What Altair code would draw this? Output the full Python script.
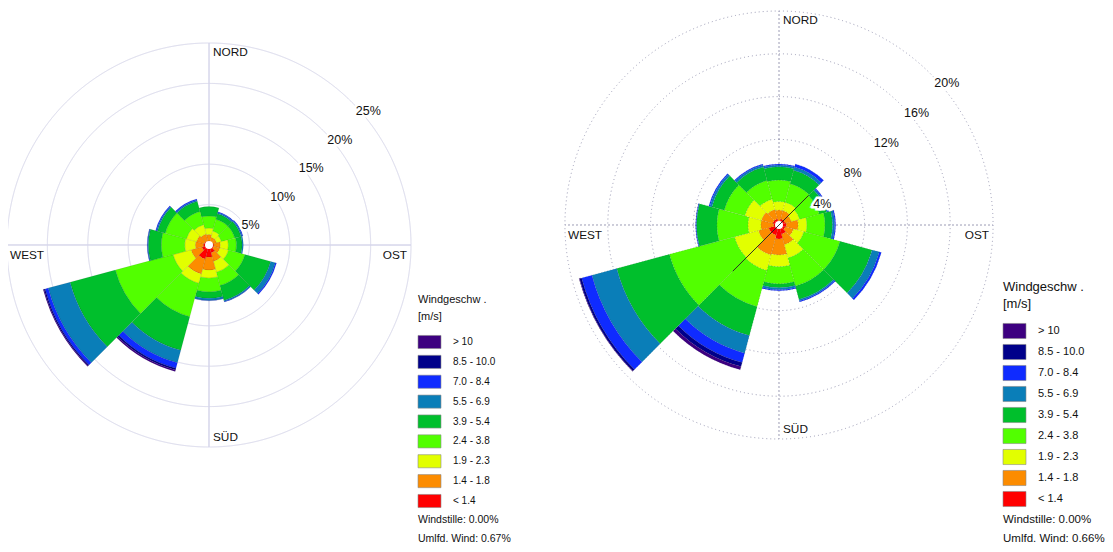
import math
import altair as alt
import pandas as pd

# ---------------- data ----------------
DIRECTIONS = [0, 30, 60, 90, 120, 150, 180, 210, 240, 270, 300, 330]
SPEED_CLASSES = ["< 1.4", "1.4 - 1.8", "1.9 - 2.3", "2.4 - 3.8", "3.9 - 5.4",
                 "5.5 - 6.9", "7.0 - 8.4", "8.5 - 10.0", "> 10"]
CLASS_COLORS = ["#ff0000", "#fc8c00", "#e2ff00", "#52ff00", "#00bf2c",
                "#0a7eb8", "#0f2bff", "#00008a", "#3d0080"]

# left rose: frequency (%) per speed class, by direction
left_c1 = [0.5, 0.4, 0.4, 0.6, 0.6, 1.0, 1.5, 1.8, 0.9, 0.7, 0.6, 0.5]
left_c2 = [0.8, 0.6, 0.6, 0.8, 0.8, 1.1, 1.6, 1.9, 1.4, 1.0, 1.0, 0.9]
left_c3 = [0.8, 0.8, 0.6, 1.0, 1.1, 1.4, 1.0, 1.2, 2.3, 1.3, 1.3, 1.2]
left_c4 = [1.5, 1.5, 1.7, 1.0, 2.1, 1.7, 1.7, 4.3, 7.4, 2.9, 2.7, 1.7]
left_c5 = [1.15, 0.7, 0.8, 0.7, 3.3, 1.9, 0.8, 4.3, 5.8, 1.6, 1.0, 1.3]
left_c6 = [0.0, 0.15, 0.15, 0.15, 0.6, 0.15, 0.25, 1.6, 2.8, 0.1, 0.15, 0.15]
left_c7 = [0.0, 0.1, 0.1, 0.0, 0.15, 0.05, 0.05, 0.7, 0.4, 0.05, 0.1, 0.15]
left_c8 = [0, 0, 0, 0, 0, 0, 0, 0.2, 0.15, 0, 0, 0]
left_c9 = [0, 0, 0, 0, 0, 0, 0, 0.2, 0.1, 0, 0, 0]

# right rose
right_c1 = [0.4, 0.6, 0.6, 0.7, 0.6, 0.9, 1.3, 1.0, 1.0, 0.5, 0.6, 0.6]
right_c2 = [1.0, 0.8, 0.6, 1.1, 0.8, 1.0, 1.5, 1.9, 1.0, 1.2, 1.1, 0.9]
right_c3 = [0.8, 0.8, 0.8, 0.8, 1.0, 1.3, 1.1, 1.5, 2.3, 1.2, 1.6, 1.0]
right_c4 = [2.0, 1.8, 1.9, 1.7, 3.5, 2.7, 1.6, 3.5, 6.3, 2.9, 2.0, 1.8]
right_c5 = [1.25, 1.3, 0.7, 0.7, 3.1, 1.3, 0.35, 2.8, 5.1, 1.9, 1.2, 1.3]
right_c6 = [0.15, 0.3, 0.15, 0.2, 0.7, 0.15, 0.2, 1.7, 2.4, 0.05, 0.2, 0.2]
right_c7 = [0.1, 0.3, 0.1, 0.1, 0.2, 0.1, 0.1, 0.9, 1.0, 0.05, 0.1, 0.1]
right_c8 = [0, 0, 0, 0, 0, 0, 0, 0.4, 0.2, 0, 0, 0]
right_c9 = [0, 0, 0, 0, 0, 0, 0, 0.3, 0.05, 0, 0, 0]

LEFT_RINGS = [5, 10, 15, 20, 25]
RIGHT_RINGS = [4, 8, 12, 16, 20]
LEFT_NOTES = ["Windstille: 0.00%", "Umlfd. Wind: 0.67%"]
RIGHT_NOTES = ["Windstille: 0.00%", "Umlfd. Wind: 0.66%"]
LEGEND_TITLE = ["Windgeschw .", "[m/s]"]
COMPASS = ["NORD", "OST", "SÜD", "WEST"]

FONT = "Liberation Sans"

# ---------------- layout ----------------
W, H = 1097, 536
L_CX, L_CY, L_RPX, L_MAX = 201, 237, 202, 25
R_CX, R_CY, R_RPX, R_MAX = 771, 217, 214, 20

TS = alt.Scale(type="linear", domain=[0, 360], range=[0, 2 * math.pi], nice=False)
COLOR = alt.Scale(domain=SPEED_CLASSES, range=CLASS_COLORS)


def rose_table(series):
    rows = []
    for di, d in enumerate(DIRECTIONS):
        cum = 0.0
        for ci, cls in enumerate(SPEED_CLASSES):
            v = series[ci][di]
            if v > 0:
                rows.append(dict(t0=d - 15, t1=d + 15, r0=cum, r1=cum + v, cls=cls))
            cum += v
    return pd.DataFrame(rows)


def rose(series, cx, cy, rmax, rpx, rings, dotted):
    rs = alt.Scale(type="linear", domain=[0, rmax], range=[0, rpx], nice=False)
    layers = []
    ring_color = "#9a9ab4" if dotted else "#d6d6ea"
    dash = [1, 3] if dotted else [1, 0]
    ring_df = pd.DataFrame({"v": rings, "lab": [f"{r}%" for r in rings]})
    # rings
    layers.append(
        alt.Chart(ring_df).mark_arc(fillOpacity=0, stroke=ring_color, strokeWidth=1,
                                    strokeDash=dash, theta=0, theta2=6.2832)
        .encode(radius=alt.Radius("v:Q", scale=rs, stack=False),
                x=alt.value(cx), y=alt.value(cy))
    )
    # spokes N/E/S/W
    spoke_df = pd.DataFrame({"a": [0, 90, 180, 270]})
    layers.append(
        alt.Chart(spoke_df).transform_calculate(a2="datum.a + 0.01", r0="0", r1=str(rmax))
        .mark_arc(fillOpacity=0, stroke=ring_color, strokeWidth=1, strokeDash=dash)
        .encode(theta=alt.Theta("a:Q", scale=TS, stack=False), theta2="a2:Q",
                radius=alt.Radius("r1:Q", scale=rs, stack=False), radius2="r0:Q",
                x=alt.value(cx), y=alt.value(cy))
    )
    # rose sectors
    if dotted:
        stroke_kw = dict(stroke="#333333", strokeWidth=0.5, strokeDash=[1, 2], strokeOpacity=0.45)
    else:
        stroke_kw = dict(stroke="#000000", strokeWidth=0.4, strokeOpacity=0.2)
    layers.append(
        alt.Chart(rose_table(series)).mark_arc(**stroke_kw)
        .encode(theta=alt.Theta("t0:Q", scale=TS, stack=False), theta2="t1:Q",
                radius=alt.Radius("r1:Q", scale=rs, stack=False), radius2="r0:Q",
                color=alt.Color("cls:N", scale=COLOR, legend=None),
                x=alt.value(cx), y=alt.value(cy))
    )
    # centre hole
    layers.append(
        alt.Chart(pd.DataFrame({"k": [0]})).mark_arc(fill="white", radius=4, theta=0, theta2=6.2832)
        .encode(x=alt.value(cx), y=alt.value(cy))
    )
    # ring labels (white halo, then text)
    for halo in (True, False):
        kw = dict(theta=math.pi / 4, align="left", baseline="top", dx=4, dy=3,
                  font=FONT, fontSize=12.5, color="#111111")
        if halo:
            kw.update(stroke="white", strokeWidth=5, color="white")
        layers.append(
            alt.Chart(ring_df).mark_text(**kw)
            .encode(radius=alt.Radius("v:Q", scale=rs, stack=False), text="lab:N",
                    x=alt.value(cx), y=alt.value(cy))
        )
    # compass labels
    specs = [
        (COMPASS[0], 0.0, "left", "top", 4, 4),
        (COMPASS[1], math.pi / 2, "right", "top", -4, 5),
        (COMPASS[2], math.pi, "left", "bottom", 4, -4),
        (COMPASS[3], 3 * math.pi / 2, "left", "top", 3, 5),
    ]
    for txt, th, al, bl, dx, dy in specs:
        layers.append(
            alt.Chart(pd.DataFrame({"t": [txt]}))
            .mark_text(theta=th, radius=rpx, align=al, baseline=bl, dx=dx, dy=dy,
                       font=FONT, fontSize=11.8, color="#111111")
            .encode(text="t:N", x=alt.value(cx), y=alt.value(cy))
        )
    return layers


def legend(x0, y_first, y_last, title_y, notes, notes_y, fs_title, fs_lab, fs_note, sw_frac):
    df = pd.DataFrame({"cls": SPEED_CLASSES[::-1], "idx": list(range(len(SPEED_CLASSES)))})
    ys = alt.Scale(type="linear", domain=[0, len(SPEED_CLASSES) - 1], range=[y_first, y_last],
                   nice=False, zero=False)
    layers = [
        alt.Chart(df).transform_calculate(lo=f"datum.idx - {sw_frac}", hi=f"datum.idx + {sw_frac}")
        .mark_rect(stroke="#8c8c8c", strokeWidth=0.6)
        .encode(x=alt.value(x0), x2=alt.value(x0 + 23),
                y=alt.Y("lo:Q", scale=ys, axis=None), y2="hi:Q",
                color=alt.Color("cls:N", scale=COLOR, legend=None)),
        alt.Chart(df).mark_text(align="left", baseline="middle", font=FONT, fontSize=fs_lab,
                                color="#111111")
        .encode(x=alt.value(x0 + 35), y=alt.Y("idx:Q", scale=ys, axis=None), text="cls:N"),
    ]
    for i, t in enumerate(LEGEND_TITLE):
        layers.append(
            alt.Chart(pd.DataFrame({"t": [t]}))
            .mark_text(align="left", baseline="middle", font=FONT, fontSize=fs_title, color="#111111")
            .encode(text="t:N", x=alt.value(x0), y=alt.value(title_y[i]))
        )
    for i, t in enumerate(notes):
        layers.append(
            alt.Chart(pd.DataFrame({"t": [t]}))
            .mark_text(align="left", baseline="middle", font=FONT, fontSize=fs_note, color="#111111")
            .encode(text="t:N", x=alt.value(x0), y=alt.value(notes_y[i]))
        )
    return layers


LEFT = [left_c1, left_c2, left_c3, left_c4, left_c5, left_c6, left_c7, left_c8, left_c9]
RIGHT = [right_c1, right_c2, right_c3, right_c4, right_c5, right_c6, right_c7, right_c8, right_c9]

layers = []
layers += rose(LEFT, L_CX, L_CY, L_MAX, L_RPX, LEFT_RINGS, dotted=False)
layers += rose(RIGHT, R_CX, R_CY, R_MAX, R_RPX, RIGHT_RINGS, dotted=True)

# right rose: thin dark line through centre (NE-SW)
rs_r = alt.Scale(type="linear", domain=[0, R_MAX], range=[0, R_RPX], nice=False)
line_df = pd.DataFrame({"a": [45, 225], "r1": [3.9, 6.1]})
layers.append(
    alt.Chart(line_df).transform_calculate(a2="datum.a + 0.01", r0="0")
    .mark_arc(fillOpacity=0, stroke="#222222", strokeWidth=0.7)
    .encode(theta=alt.Theta("a:Q", scale=TS, stack=False), theta2="a2:Q",
            radius=alt.Radius("r1:Q", scale=rs_r, stack=False), radius2="r0:Q",
            x=alt.value(R_CX), y=alt.value(R_CY))
)

layers += legend(410, 334, 493, [292, 309], LEFT_NOTES, [512, 531], 11, 10, 10.5, 0.33)
layers += legend(995, 323, 491, [279, 296], RIGHT_NOTES, [512, 531], 13, 11, 11.5, 0.36)

chart = (
    alt.layer(*layers)
    .properties(width=W, height=H, autosize=alt.AutoSizeParams(type="none"), padding=0)
    .resolve_scale(theta="independent", radius="independent", y="independent")
    .configure_view(strokeWidth=0)
)

chart.save("out.html", embed_options={"renderer": "svg", "actions": False})
